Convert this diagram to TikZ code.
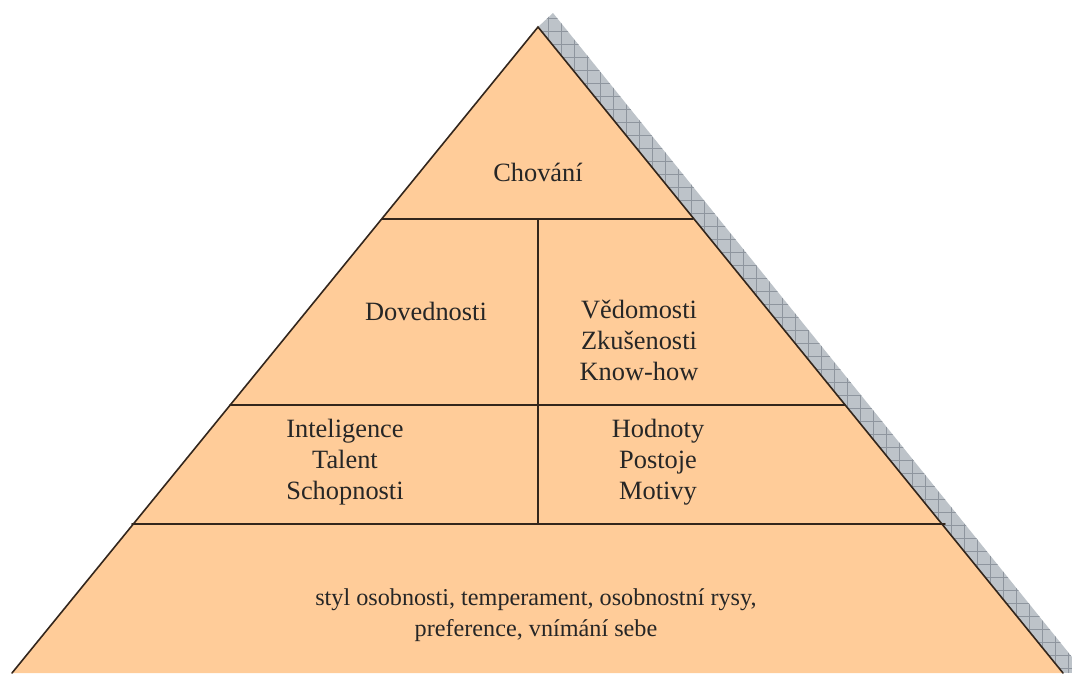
\documentclass[tikz,border=0pt]{standalone}
\usepackage{fontspec}
\setmainfont{Liberation Serif}
\definecolor{fillor}{HTML}{FFCC99}
\definecolor{edgec}{HTML}{33261C}
\definecolor{shadowc}{HTML}{BDC3C9}
\definecolor{hatchc}{HTML}{8E959E}
\tikzset{
  edgeline/.style={draw=edgec,line width=1.6pt,line cap=round},
  label/.style={align=center,font=\fontsize{26.4}{31}\selectfont,text=black!85,inner sep=0pt},
  widelabel/.style={label,font=\fontsize{24.2}{31}\selectfont},
  hatch/.style={draw=hatchc,line width=0.9pt}
}
\begin{document}
\begin{tikzpicture}[x=1pt,y=-1pt]
\useasboundingbox (0,0) rectangle (1072,673);
\fill[white] (0,0) rectangle (1072,673);
% shadow band
\begin{scope}
\clip (538,27) -- (553,13) -- (1072,657) -- (1072,673) -- (1063,673) -- cycle;
\fill[shadowc] (530,5) rectangle (1072,673);
\foreach \i in {0,...,42} {\draw[hatch] (535+13*\i,0) -- (535+13*\i,673);}
\foreach \i in {0,...,52} {\draw[hatch] (530,5+13*\i) -- (1072,5+13*\i);}
\end{scope}
% pyramid
\coordinate (apex) at (538,27);
\coordinate (bl) at (12,673);
\coordinate (br) at (1063,673);
\fill[fillor] (apex) -- (bl) -- (br) -- cycle;
\draw[edgeline] (bl) -- (apex) -- (br);
\coordinate (a1) at (382,219); \coordinate (a2) at (693,219);
\coordinate (b1) at (230,405); \coordinate (b2) at (845,405);
\coordinate (c1) at (132,524); \coordinate (c2) at (945,524);
\coordinate (vt) at (538,219); \coordinate (vb) at (538,524);
\draw[edgeline] (a1) -- (a2);
\draw[edgeline] (b1) -- (b2);
\draw[edgeline] (c1) -- (c2);
\draw[edgeline] (vt) -- (vb);
% labels
\node[label] (chovani) at (538,172) {Chování};
\node[label] (dovednosti) at (426,311) {Dovednosti};
\node[label] (vedomosti) at (639,340) {Vědomosti\\Zkušenosti\\Know-how};
\node[label] (inteligence) at (345,462) {Inteligence\\Talent\\Schopnosti};
\node[label] (hodnoty) at (658,462) {Hodnoty\\Postoje\\Motivy};
\node[widelabel] (styl) at (536,615) {styl osobnosti, temperament, osobnostní rysy,\\preference, vnímání sebe};
\end{tikzpicture}
\end{document}
